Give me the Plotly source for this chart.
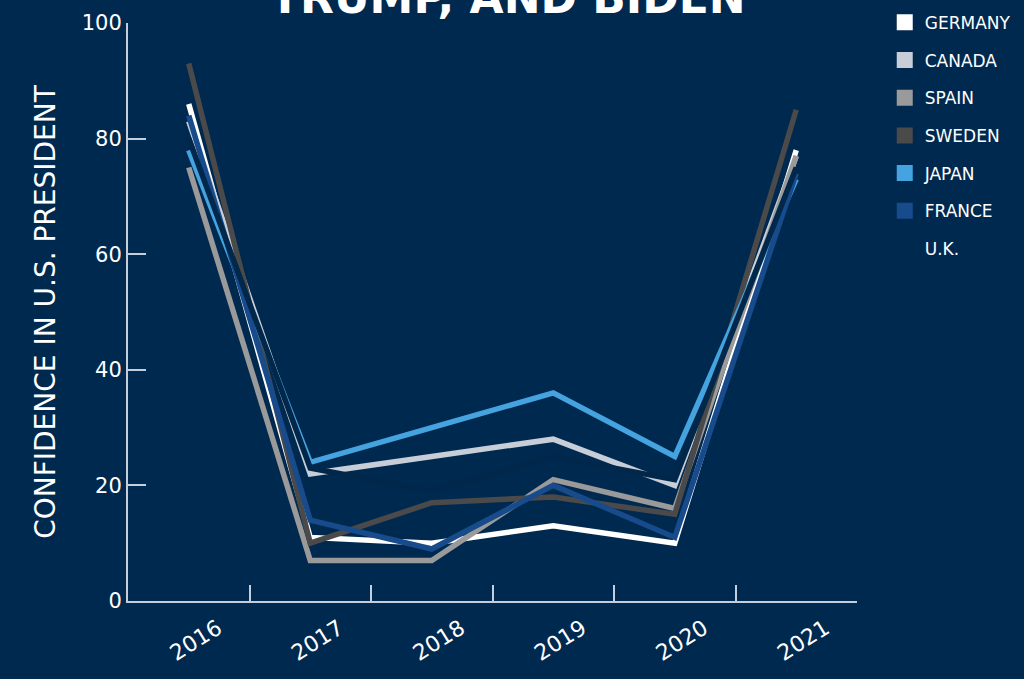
import plotly.graph_objects as go

years = ["2016", "2017", "2018", "2019", "2020", "2021"]
countries = ["GERMANY", "CANADA", "SPAIN", "SWEDEN", "JAPAN", "FRANCE", "U.K."]
germany = [86, 11, 10, 13, 10, 78]
canada = [83, 22, 25, 28, 20, 77]
spain = [75, 7, 7, 21, 16, 77]
sweden = [93, 10, 17, 18, 15, 85]
japan = [78, 24, 30, 36, 25, 73]
france = [84, 14, 9, 20, 11, 74]
uk = [80, 23, 19, 25, 21, 75]
series = [germany, canada, spain, sweden, japan, france, uk]
colors = ["#ffffff", "#c8ced8", "#9a9a9a", "#4a4a4a", "#45a3df", "#174b8b", "#01274b"]

BG = "#00294f"
AX = "#c5cfdc"
FONT = "DejaVu Sans"

fig = go.Figure()
for name, vals, col in zip(countries, series, colors):
    fig.add_trace(go.Scatter(x=years, y=vals, mode="lines", name=name,
                             line=dict(color=col, width=5.5), showlegend=False,
                             hoverinfo="skip"))
for name, col in zip(countries, colors):
    sw = col if name != "U.K." else "rgba(0,0,0,0)"
    fig.add_trace(go.Scatter(x=[None], y=[None], mode="markers", name=name,
                             legendgroup=name,
                             marker=dict(symbol="square", size=17, color=sw,
                                         line=dict(width=0))))

fig.update_layout(
    width=1024, height=679,
    paper_bgcolor=BG, plot_bgcolor=BG,
    margin=dict(l=128, r=167, t=23, b=78),
    font=dict(family=FONT, color="white"),
    showlegend=True,
    legend=dict(xref="container", yref="container", x=0.864, y=0.993,
                xanchor="left", yanchor="top",
                font=dict(size=17, color="white", family=FONT),
                tracegroupgap=12.6, itemsizing="trace",
                bgcolor="rgba(0,0,0,0)"),
    xaxis=dict(type="category", range=[-0.5, 5.5], tickson="boundaries",
               ticks="inside", ticklen=16, tickwidth=2, tickcolor=AX,
               showline=True, linecolor=AX, linewidth=2, showgrid=False,
               zeroline=False, tickangle=-32, ticklabelshift=29,
               ticklabelstandoff=4, automargin=False,
               tickfont=dict(size=22, color="white", family=FONT)),
    yaxis=dict(range=[0, 100], tickvals=[0, 20, 40, 60, 80, 100],
               ticks="inside", ticklen=18, tickwidth=2, tickcolor=AX,
               showline=True, linecolor=AX, linewidth=2, showgrid=False,
               zeroline=False, automargin=False,
               tickfont=dict(size=21, color="white", family=FONT),
               title=dict(text="CONFIDENCE IN U.S. PRESIDENT", standoff=18,
                          font=dict(size=28, color="white", family=FONT))),
    annotations=[dict(text="<b>TRUMP, AND BIDEN</b>", xref="paper", yref="paper",
                      x=0.521, y=1, xanchor="center", yanchor="bottom", yshift=-2,
                      showarrow=False,
                      font=dict(size=44, color="white", family=FONT))],
)

fig.write_html("out.html", config={"displayModeBar": False},
               post_script="document.body.style.margin='0';")
